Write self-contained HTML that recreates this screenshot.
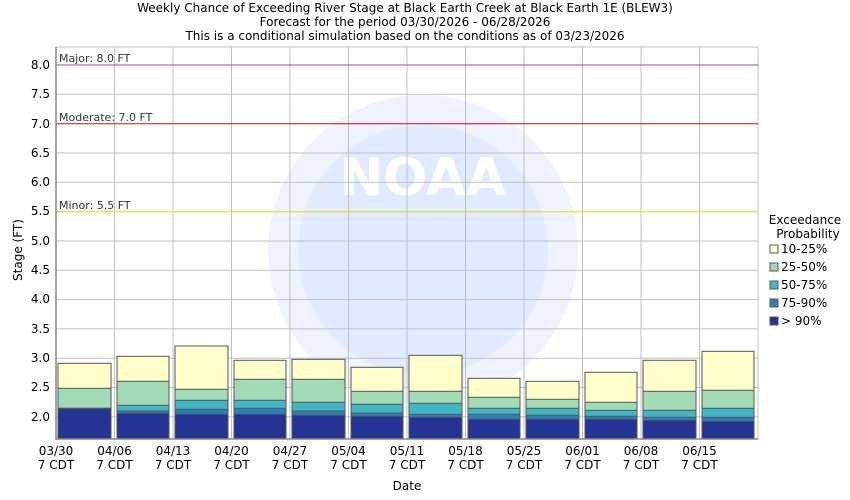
<!DOCTYPE html>
<html><head><meta charset="utf-8"><style>
body{margin:0;background:#fff}
svg{display:block;font-family:"DejaVu Sans","Liberation Sans",sans-serif}
</style></head><body>
<svg width="850" height="500" viewBox="0 0 850 500" xmlns="http://www.w3.org/2000/svg">
<rect width="850" height="500" fill="#fff"/>
<g font-size="12" text-anchor="middle" fill="#000">
<text x="405" y="12">Weekly Chance of Exceeding River Stage at Black Earth Creek at Black Earth 1E (BLEW3)</text>
<text x="405" y="26">Forecast for the period 03/30/2026 - 06/28/2026</text>
<text x="405" y="40">This is a conditional simulation based on the conditions as of 03/23/2026</text>
</g>
<circle cx="423" cy="250" r="155" fill="#eef3ff"/>
<circle cx="423" cy="250" r="125" fill="#e1ebff"/>
<text x="423" y="195" font-size="52" font-weight="bold" fill="#fff" text-anchor="middle">NOAA</text>
<g stroke="#c0c0c0" stroke-width="1">
<line x1="56" x2="758" y1="94.3" y2="94.3"/><line x1="56" x2="758" y1="153" y2="153"/>
<line x1="56" x2="758" y1="182.3" y2="182.3"/><line x1="56" x2="758" y1="241" y2="241"/>
<line x1="56" x2="758" y1="270.3" y2="270.3"/><line x1="56" x2="758" y1="299.6" y2="299.6"/>
<line x1="56" x2="758" y1="328.9" y2="328.9"/><line x1="56" x2="758" y1="358.2" y2="358.2"/>
<line x1="56" x2="758" y1="387.5" y2="387.5"/><line x1="56" x2="758" y1="416.7" y2="416.7"/>
<line x1="114.5" x2="114.5" y1="47" y2="439"/><line x1="173" x2="173" y1="47" y2="439"/>
<line x1="231.5" x2="231.5" y1="47" y2="439"/><line x1="290" x2="290" y1="47" y2="439"/>
<line x1="348.5" x2="348.5" y1="47" y2="439"/><line x1="407" x2="407" y1="47" y2="439"/>
<line x1="465.5" x2="465.5" y1="47" y2="439"/><line x1="524" x2="524" y1="47" y2="439"/>
<line x1="582.5" x2="582.5" y1="47" y2="439"/><line x1="641" x2="641" y1="47" y2="439"/>
<line x1="699.5" x2="699.5" y1="47" y2="439"/><line x1="758" x2="758" y1="47" y2="439"/>
<line x1="56" x2="758" y1="47" y2="47"/>
</g>
<line x1="56" x2="758" y1="65" y2="65" stroke="#a040a0"/>
<line x1="56" x2="758" y1="123.7" y2="123.7" stroke="#ee0000"/>
<line x1="56" x2="758" y1="211.7" y2="211.7" stroke="#ffcc00"/>
<g font-size="11" fill="#333">
<text x="59" y="62">Major: 8.0 FT</text>
<text x="59" y="121">Moderate: 7.0 FT</text>
<text x="59" y="209">Minor: 5.5 FT</text>
</g>
<g stroke="#555" stroke-width="1">
<rect x="58" width="53" y="363.3" height="75.7" fill="#ffffcc"/><rect x="58" width="53" y="388.3" height="50.7" fill="#a1dab4"/><rect x="58" width="53" y="408.3" height="30.7" fill="#41b6c4"/><rect x="58" width="53" y="408.3" height="30.7" fill="#2c7fb8"/><rect x="58" width="53" y="408.7" height="30.3" fill="#253494"/>
<rect x="117" width="52" y="356.3" height="82.7" fill="#ffffcc"/><rect x="117" width="52" y="381.3" height="57.7" fill="#a1dab4"/><rect x="117" width="52" y="405.3" height="33.7" fill="#41b6c4"/><rect x="117" width="52" y="411" height="28" fill="#2c7fb8"/><rect x="117" width="52" y="413.3" height="25.7" fill="#253494"/>
<rect x="175" width="53" y="346" height="93" fill="#ffffcc"/><rect x="175" width="53" y="389.3" height="49.7" fill="#a1dab4"/><rect x="175" width="53" y="400.3" height="38.7" fill="#41b6c4"/><rect x="175" width="53" y="409.3" height="29.7" fill="#2c7fb8"/><rect x="175" width="53" y="414.3" height="24.7" fill="#253494"/>
<rect x="234" width="52" y="360.3" height="78.7" fill="#ffffcc"/><rect x="234" width="52" y="379.3" height="59.7" fill="#a1dab4"/><rect x="234" width="52" y="400.3" height="38.7" fill="#41b6c4"/><rect x="234" width="52" y="408.3" height="30.7" fill="#2c7fb8"/><rect x="234" width="52" y="414.3" height="24.7" fill="#253494"/>
<rect x="292" width="53" y="359.3" height="79.7" fill="#ffffcc"/><rect x="292" width="53" y="379.3" height="59.7" fill="#a1dab4"/><rect x="292" width="53" y="402.3" height="36.7" fill="#41b6c4"/><rect x="292" width="53" y="411" height="28" fill="#2c7fb8"/><rect x="292" width="53" y="415.3" height="23.7" fill="#253494"/>
<rect x="351" width="52" y="367.3" height="71.7" fill="#ffffcc"/><rect x="351" width="52" y="391.3" height="47.7" fill="#a1dab4"/><rect x="351" width="52" y="404.3" height="34.7" fill="#41b6c4"/><rect x="351" width="52" y="413" height="26" fill="#2c7fb8"/><rect x="351" width="52" y="416.3" height="22.7" fill="#253494"/>
<rect x="409" width="53" y="355.3" height="83.7" fill="#ffffcc"/><rect x="409" width="53" y="391.3" height="47.7" fill="#a1dab4"/><rect x="409" width="53" y="403.3" height="35.7" fill="#41b6c4"/><rect x="409" width="53" y="414.3" height="24.7" fill="#2c7fb8"/><rect x="409" width="53" y="417.3" height="21.7" fill="#253494"/>
<rect x="468" width="52" y="378.3" height="60.7" fill="#ffffcc"/><rect x="468" width="52" y="397.3" height="41.7" fill="#a1dab4"/><rect x="468" width="52" y="408.3" height="30.7" fill="#41b6c4"/><rect x="468" width="52" y="414.3" height="24.7" fill="#2c7fb8"/><rect x="468" width="52" y="419.3" height="19.7" fill="#253494"/>
<rect x="526" width="53" y="381.3" height="57.7" fill="#ffffcc"/><rect x="526" width="53" y="399.3" height="39.7" fill="#a1dab4"/><rect x="526" width="53" y="408.3" height="30.7" fill="#41b6c4"/><rect x="526" width="53" y="415.3" height="23.7" fill="#2c7fb8"/><rect x="526" width="53" y="419.3" height="19.7" fill="#253494"/>
<rect x="585" width="52" y="372.3" height="66.7" fill="#ffffcc"/><rect x="585" width="52" y="402.3" height="36.7" fill="#a1dab4"/><rect x="585" width="52" y="410.3" height="28.7" fill="#41b6c4"/><rect x="585" width="52" y="416.3" height="22.7" fill="#2c7fb8"/><rect x="585" width="52" y="419.3" height="19.7" fill="#253494"/>
<rect x="643" width="53" y="360.3" height="78.7" fill="#ffffcc"/><rect x="643" width="53" y="391.3" height="47.7" fill="#a1dab4"/><rect x="643" width="53" y="410.3" height="28.7" fill="#41b6c4"/><rect x="643" width="53" y="417.3" height="21.7" fill="#2c7fb8"/><rect x="643" width="53" y="420.3" height="18.7" fill="#253494"/>
<rect x="702" width="52" y="351.3" height="87.7" fill="#ffffcc"/><rect x="702" width="52" y="390.3" height="48.7" fill="#a1dab4"/><rect x="702" width="52" y="408.3" height="30.7" fill="#41b6c4"/><rect x="702" width="52" y="417.3" height="21.7" fill="#2c7fb8"/><rect x="702" width="52" y="421.3" height="17.7" fill="#253494"/>
</g>
<g stroke="#888" stroke-width="1.5">
<line x1="56" x2="56" y1="47" y2="440"/><line x1="56" x2="758" y1="439" y2="439"/>
</g>
<g font-size="12" fill="#000" text-anchor="end">
<text x="50" y="69">8.0</text><text x="50" y="98">7.5</text><text x="50" y="128">7.0</text>
<text x="50" y="157">6.5</text><text x="50" y="186">6.0</text><text x="50" y="215">5.5</text>
<text x="50" y="245">5.0</text><text x="50" y="274">4.5</text><text x="50" y="303">4.0</text>
<text x="50" y="333">3.5</text><text x="50" y="362">3.0</text><text x="50" y="391">2.5</text>
<text x="50" y="421">2.0</text>
</g>
<g font-size="12" fill="#000" text-anchor="middle">
<text x="56" y="455">03/30</text><text x="56" y="469">7 CDT</text>
<text x="114.5" y="455">04/06</text><text x="114.5" y="469">7 CDT</text>
<text x="173" y="455">04/13</text><text x="173" y="469">7 CDT</text>
<text x="231.5" y="455">04/20</text><text x="231.5" y="469">7 CDT</text>
<text x="290" y="455">04/27</text><text x="290" y="469">7 CDT</text>
<text x="348.5" y="455">05/04</text><text x="348.5" y="469">7 CDT</text>
<text x="407" y="455">05/11</text><text x="407" y="469">7 CDT</text>
<text x="465.5" y="455">05/18</text><text x="465.5" y="469">7 CDT</text>
<text x="524" y="455">05/25</text><text x="524" y="469">7 CDT</text>
<text x="582.5" y="455">06/01</text><text x="582.5" y="469">7 CDT</text>
<text x="641" y="455">06/08</text><text x="641" y="469">7 CDT</text>
<text x="699.5" y="455">06/15</text><text x="699.5" y="469">7 CDT</text>
<text x="407" y="490">Date</text>
<text transform="translate(22,250) rotate(-90)">Stage (FT)</text>
</g>
<g font-size="12" fill="#000">
<text x="805" y="224" text-anchor="middle">Exceedance</text>
<text x="808" y="238" text-anchor="middle">Probability</text>
<g stroke="#555"><rect x="770" y="245" width="8" height="8" fill="#ffffcc"/><rect x="770" y="263" width="8" height="8" fill="#a1dab4"/><rect x="770" y="281" width="8" height="8" fill="#41b6c4"/><rect x="770" y="299" width="8" height="8" fill="#2c7fb8"/><rect x="770" y="317" width="8" height="8" fill="#253494"/></g>
<text x="781" y="253">10-25%</text><text x="781" y="271">25-50%</text><text x="781" y="289">50-75%</text><text x="781" y="307">75-90%</text><text x="781" y="325">&gt; 90%</text>
</g>
</svg>
</body></html>
